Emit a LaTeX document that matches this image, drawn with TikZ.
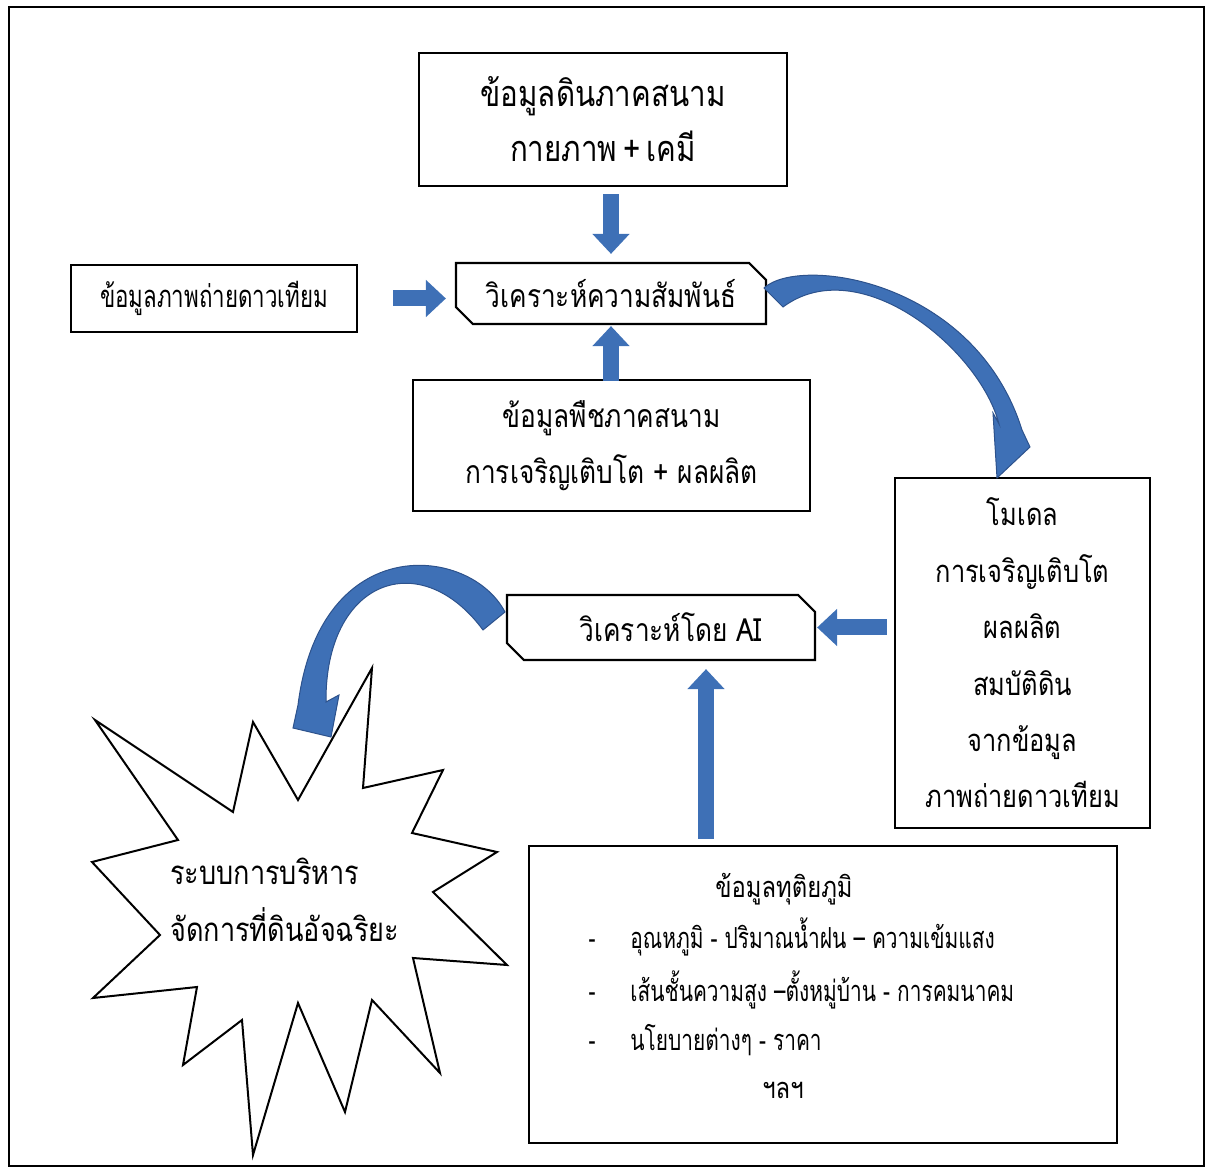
\documentclass[tikz,border=0pt]{standalone}
\usepackage{fontspec}
\setmainfont[Script=Thai,FakeStretch=0.82]{Loma}
\newfontfamily\narrowthai[Script=Thai,FakeStretch=0.72]{Loma}
\usetikzlibrary{shapes,arrows.meta}
\definecolor{arrowblue}{RGB}{62,112,182}
\definecolor{arrowedge}{RGB}{45,82,140}
\tikzset{%
	box/.style      = {draw, line width=1.1pt, rectangle, fill=white, align=center,
		font=\fontsize{16}{28}\selectfont},
	cutbox/.style   = {box, chamfered rectangle, chamfered rectangle corners={north east,south west},
		chamfered rectangle xsep=5pt}, % Process
	txt/.style      = {font=\fontsize{14.5}{24}\selectfont, inner sep=0pt},
	itemtxt/.style  = {txt, font=\narrowthai\fontsize{14.5}{24}\selectfont},
	blockarrow/.style = {draw=arrowblue, line width=8pt, -{Triangle[length=10pt,width=18pt]}},
	bentarrow/.style  = {fill=arrowblue, draw=arrowedge, line width=0.5pt}
}

\begin{document}
\begin{tikzpicture}[x=0.5pt,y=-0.5pt]
	\useasboundingbox (0,0) rectangle (1211,1171);
	\draw[line width=1pt] (9,7) rectangle (1204,1166);

	\node[box, minimum width=184pt, minimum height=66.5pt, font=\fontsize{18}{27.5}\selectfont] (soil) at (603,119.5)
		{ข้อมูลดินภาคสนาม\\กายภาพ\hspace{3pt}+\hspace{3pt}เคมี};
	\node[cutbox, minimum width=155pt, minimum height=30.5pt] (rel) at (611,293.5) {วิเคราะห์ความสัมพันธ์};
	\node[box, minimum width=143pt, minimum height=33.5pt, font=\narrowthai\fontsize{15.5}{24}\selectfont] (sat) at (214,298.5) {ข้อมูลภาพถ่ายดาวเทียม};
	\node[box, minimum width=198.5pt, minimum height=65.5pt] (plant) at (611.5,445.5) {ข้อมูลพืชภาคสนาม\\การเจริญเติบโต + ผลผลิต};
	\node[box, minimum width=127.5pt, minimum height=175pt, font=\fontsize{15.5}{28.2}\selectfont] (model) at (1022.5,653)
		{โมเดล\\การเจริญเติบโต\\ผลผลิต\\สมบัติดิน\\จากข้อมูล\\ภาพถ่ายดาวเทียม};
	\node[cutbox, minimum width=154pt, minimum height=32.5pt] (ai) at (661,627.5) {\hspace{10pt}วิเคราะห์โดย AI};
	\node[box, minimum width=294pt, minimum height=148.5pt] (second) at (823,994.5) {};

	\node[txt, anchor=base] (sectitle) at (784,897) {ข้อมูลทุติยภูมิ};
	\node[itemtxt, anchor=base] (dash1) at (592,948) {-};
	\node[itemtxt, anchor=base] (dash2) at (592,1001) {-};
	\node[itemtxt, anchor=base] (dash3) at (592,1050) {-};
	\node[itemtxt, anchor=base west] (item1) at (630,948) {อุณหภูมิ - ปริมาณน้ำฝน – ความเข้มแสง};
	\node[itemtxt, anchor=base west] (item2) at (630,1001) {เส้นชั้นความสูง –ตั้งหมู่บ้าน - การคมนาคม};
	\node[itemtxt, anchor=base west] (item3) at (630,1050) {นโยบายต่างๆ - ราคา};
	\node[txt, anchor=base] (etc) at (783,1098) {ฯลฯ};

	% starburst
	\draw[line width=1pt, fill=white] (95,720) -- (233,812) -- (253,722) -- (298,800) -- (372,668)
		-- (363,788) -- (443,770) -- (412,833) -- (497,852) -- (433,892) -- (507,965) -- (413,958)
		-- (440,1073) -- (372,1000) -- (345,1112) -- (298,1003) -- (253,1155) -- (242,1020)
		-- (183,1065) -- (197,987) -- (93,998) -- (160,935) -- (92,862) -- (178,840) -- cycle;
	\node[txt, anchor=west, align=left, font=\fontsize{16.5}{28.5}\selectfont] (smart) at (170,900) {ระบบการบริหาร\\จัดการที่ดินอัจฉริยะ};

	\draw[blockarrow, shorten <=3.5pt, shorten >=4pt] (rel.north |- soil.south) -- (rel.north);
	\draw[blockarrow, shorten <=-1pt, shorten >=0.5pt] (rel.south |- plant.north) -- (rel.south);
	\draw[blockarrow, shorten <=17.5pt, shorten >=4.5pt] (sat.east) -- (sat.east -| rel.west);
	\draw[blockarrow, shorten <=3.5pt, shorten >=0.5pt] (ai.east -| model.west) -- (ai.east);
	\coordinate (aiin) at ([xshift=22.5pt]ai.south);
	\draw[blockarrow, shorten <=3pt, shorten >=4pt] (aiin |- second.north) -- (aiin);

	% curved arrows
	\draw[bentarrow] (764,288) .. controls (800,255) and (975,280) .. (1022,430) -- (1030,447)
		-- (997,478) -- (993,413) -- (999,424) .. controls (980,350) and (860,250) .. (783,307) -- cycle;
	\draw[bentarrow] (505,612) .. controls (470,545) and (320,530) .. (298,705) -- (293,728)
		-- (331,737) -- (339,695) -- (326,702) .. controls (325,580) and (420,545) .. (483,630) -- cycle;
\end{tikzpicture}
\end{document}
